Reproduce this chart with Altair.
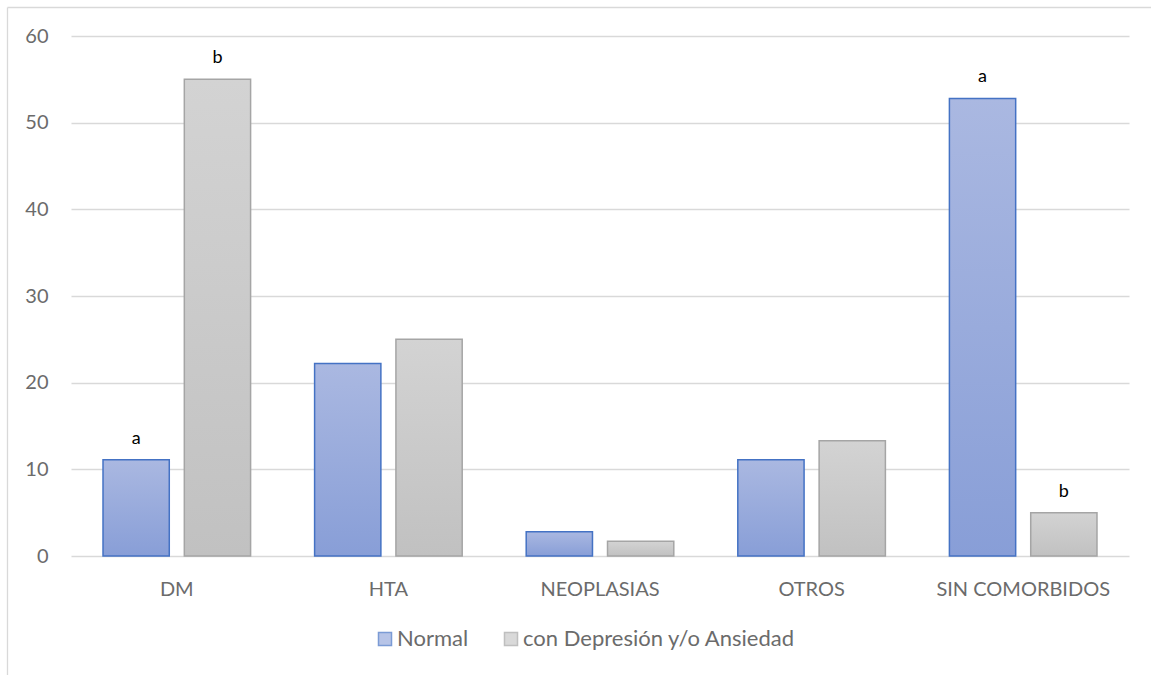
import altair as alt
import pandas as pd

# Comorbilidades por grupo (%)
categorias = ["DM", "HTA", "NEOPLASIAS", "OTROS", "SIN COMORBIDOS"]
series = ["Normal", "con Depresión y/o Ansiedad"]
normal = [11.1, 22.2, 2.8, 11.1, 52.8]
depresion = [55.0, 25.0, 1.7, 13.3, 5.0]
letras_normal = ["a", "", "", "", "a"]
letras_depresion = ["b", "", "", "", "b"]

rows = []
for i, cat in enumerate(categorias):
    rows.append({"categoria": cat, "serie": series[0], "valor": normal[i], "letra": letras_normal[i]})
    rows.append({"categoria": cat, "serie": series[1], "valor": depresion[i], "letra": letras_depresion[i]})
df = pd.DataFrame(rows)

FONT = "Lato"
TEXT_GREY = "#6b6b6b"
GRID = "#D9D9D9"
W, H = 1058, 520

x_enc = alt.X(
    "categoria:N",
    sort=categorias,
    scale=alt.Scale(domain=categorias, paddingInner=0.3025, paddingOuter=0.15125),
    axis=alt.Axis(title=None, labelAngle=0, ticks=False, domain=False, grid=False,
                  labelPadding=23, labelFontSize=20, labelFont=FONT,
                  labelColor=TEXT_GREY, labelBaseline="top"),
)
xo_enc = alt.XOffset("serie:N", scale=alt.Scale(domain=series, paddingInner=0.185, paddingOuter=0))
y_enc = alt.Y(
    "valor:Q",
    scale=alt.Scale(domain=[0, 60], nice=False),
    axis=alt.Axis(title=None, values=list(range(0, 61, 10)), grid=True, gridColor=GRID,
                  gridWidth=1.3, domain=False, ticks=False, labelPadding=23,
                  labelFontSize=20, labelFont=FONT, labelColor=TEXT_GREY),
)


def gradiente(top, bottom):
    return alt.Gradient(
        gradient="linear", x1=0, x2=0, y1=0, y2=1,
        stops=[alt.GradientStop(color=top, offset=0), alt.GradientStop(color=bottom, offset=1)],
    )


def barras(serie, relleno, borde):
    return (
        alt.Chart(df)
        .transform_filter(alt.datum.serie == serie)
        .mark_bar(fill=relleno, stroke=borde, strokeWidth=1.5)
        .encode(x=x_enc, xOffset=xo_enc, y=y_enc)
    )


barras_normal = barras(series[0], gradiente("#AAB8E1", "#889ED7"), "#4472C4")
barras_dep = barras(series[1], gradiente("#D3D3D3", "#C1C1C1"), "#A5A5A5")

letras = (
    alt.Chart(df)
    .transform_filter(alt.datum.letra != "")
    .mark_text(baseline="alphabetic", dy=-16, fontSize=18, font=FONT, color="#000000")
    .encode(x=x_enc, xOffset=xo_enc, y=y_enc, text="letra:N")
)

leyenda_props = dict(
    title=None, orient="none", legendX=303, legendY=592, direction="horizontal",
    symbolType="square", symbolSize=169, symbolStrokeWidth=1.5,
    labelFontSize=22, labelFont=FONT, labelColor=TEXT_GREY, labelOffset=1,
    labelLimit=500, columnPadding=31, padding=0,
)
leyenda = (
    alt.Chart(df)
    .transform_filter("false")
    .mark_square(filled=True)
    .encode(
        fill=alt.Fill("serie:N", scale=alt.Scale(domain=series, range=["#9AACDD", "#CACACA"]),
                      legend=alt.Legend(**leyenda_props)),
        stroke=alt.Stroke("serie:N", scale=alt.Scale(domain=series, range=["#4472C4", "#A5A5A5"]),
                          legend=alt.Legend(**leyenda_props)),
    )
)

# marco exterior del gráfico
marco = alt.Chart(alt.Data(values=[{}]))
marco_izq = marco.mark_rule(color=GRID, strokeWidth=1.3).encode(
    x=alt.value(-63.5), y=alt.value(-28.5), y2=alt.value(H + 200)
)
marco_sup = marco.mark_rule(color=GRID, strokeWidth=1.3).encode(
    y=alt.value(-28.5), x=alt.value(-63.5), x2=alt.value(W + 200)
)

chart = (
    alt.layer(marco_izq, marco_sup, barras_normal, barras_dep, letras, leyenda)
    .properties(
        width=W, height=H,
        autosize=alt.AutoSizeParams(type="none"),
        padding={"left": 71, "top": 36, "right": 22, "bottom": 119},
        background="white",
    )
    .configure_view(stroke=None)
)

chart.save("out.html", embed_options={"renderer": "svg", "actions": False})
